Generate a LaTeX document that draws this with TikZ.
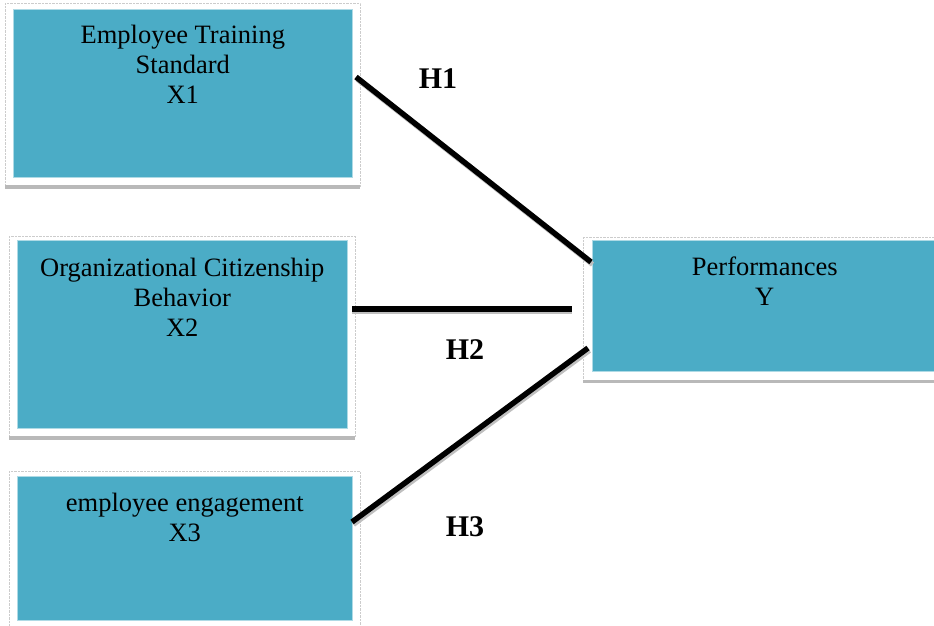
\documentclass[tikz,border=0pt]{standalone}
\usepackage{fontspec}
\setmainfont{Liberation Serif}
\usetikzlibrary{positioning}
\definecolor{boxteal}{RGB}{75,172,198}
\begin{document}
\begin{tikzpicture}[x=1pt,y=-1pt,
		varbox/.style={rectangle,fill=boxteal,draw=boxteal!45!white,line width=0.6pt,inner sep=0pt,anchor=north west},
		boxframe/.style={draw=gray!40,densely dotted,line width=0.4pt},
		boxshadow/.style={draw=gray!55,line width=3.5pt},
		boxtext/.style={font=\fontsize{26.5}{30}\selectfont,align=center,anchor=north,inner sep=0pt},
		hyp/.style={font=\bfseries\fontsize{30}{30}\selectfont,inner sep=0pt},
		link/.style={line width=5.5pt},
		linkshadow/.style={line width=5pt,draw=gray!50}]
	\useasboundingbox (0,0) rectangle (934,625);

	% frames with shadows
	\draw[boxframe] (5,3) rectangle (360,186);
	\draw[boxshadow] (5,187) -- (360,187);
	\draw[boxframe] (9,236) rectangle (355,437);
	\draw[boxshadow] (9,438) -- (355,438);
	\draw[boxframe] (9,471) rectangle (360,630);
	\draw[boxframe] (583,237) rectangle (940,380);
	\draw[boxshadow] (583,381.5) -- (934,381.5);

	% boxes
	\node[varbox,minimum width=339pt,minimum height=168pt]	(x1)	at (13,9)		{};
	\node[varbox,minimum width=330pt,minimum height=188pt]	(x2)	at (17,240)		{};
	\node[varbox,minimum width=335pt,minimum height=144pt]	(x3)	at (17,476)		{};
	\node[varbox,minimum width=345pt,minimum height=131pt]	(y)		at (592,240)	{};

	\node[boxtext] (x1text)	at ([yshift=-16pt]x1.north)	{Employee Training\\Standard\\X1};
	\node[boxtext] (x2text)	at ([yshift=-18pt]x2.north)	{Organizational Citizenship\\Behavior\\X2};
	\node[boxtext] (x3text)	at ([yshift=-17pt]x3.north)	{employee engagement\\X3};
	\node[boxtext] (ytext)	at ([yshift=-17pt]y.north)	{Performances\\Y};

	% hypotheses
	\coordinate (h1a) at (356,77);
	\coordinate (h1b) at (591,262);
	\coordinate (h2a) at (352,309);
	\coordinate (h2b) at (572,309);
	\coordinate (h3a) at (352,522);
	\coordinate (h3b) at (588,348);

	\draw[linkshadow] ([shift={(1.5,2.5)}]h1a) -- ([shift={(1.5,2.5)}]h1b);
	\draw[linkshadow] ([shift={(0,2.5)}]h2a) -- ([shift={(0,2.5)}]h2b);
	\draw[linkshadow] ([shift={(1.5,2.5)}]h3a) -- ([shift={(1.5,2.5)}]h3b);
	\draw[link] (h1a) -- (h1b);
	\draw[link] (h2a) -- (h2b);
	\draw[link] (h3a) -- (h3b);

	\node[hyp] (h1) at (438,79)	{H1};
	\node[hyp] (h2) at (465,350)	{H2};
	\node[hyp] (h3) at (465,527)	{H3};
\end{tikzpicture}
\end{document}
